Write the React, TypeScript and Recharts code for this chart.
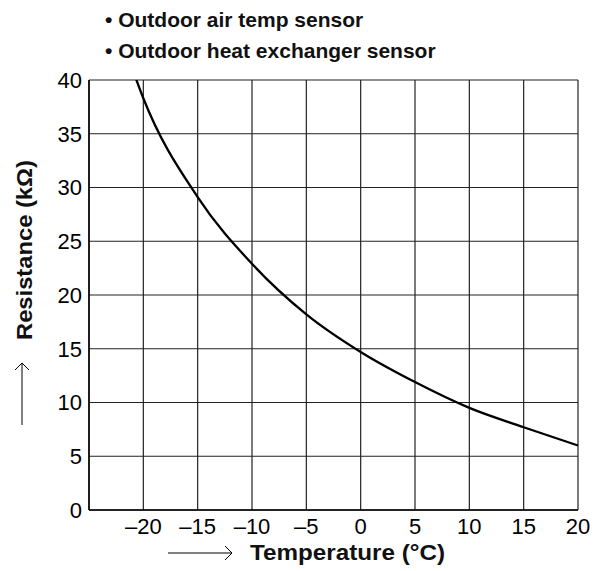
import React from "react";
import { LineChart, Line, XAxis, YAxis, CartesianGrid } from "recharts";

const temps = [-21, -20, -15, -10, -5, 0, 5, 10, 15, 20];
const resistance = [41.0, 38.3, 29.1, 22.9, 18.2, 14.7, 11.9, 9.5, 7.7, 6.0];
const xTicks = [-25, -20, -15, -10, -5, 0, 5, 10, 15, 20];
const yTicks = [0, 5, 10, 15, 20, 25, 30, 35, 40];
const titles = ["• Outdoor air temp sensor", "• Outdoor heat exchanger sensor"];

const data = temps.map((t, i) => ({ t, r: resistance[i] }));

const FONT = '"Liberation Sans", Arial, sans-serif';

const fmtX = (v: number) => (v === -25 ? "" : String(v).replace("-", "\u2013"));

export default function App() {
  return (
    <div style={{ position: "absolute", left: 0, top: 0, width: 599, height: 571, background: "#fff" }}>
      <LineChart
        width={599}
        height={571}
        data={data}
        margin={{ top: 80, right: 21, bottom: 31, left: 59 }}
      >
        <CartesianGrid stroke="#222" strokeWidth={1.2} />
        <XAxis
          dataKey="t"
          type="number"
          domain={[-25, 20]}
          ticks={xTicks}
          tickFormatter={fmtX}
          tickLine={false}
          tickSize={0}
          tickMargin={8}
          height={30}
          axisLine={{ stroke: "#000", strokeWidth: 1.5 }}
          tick={{ fill: "#000", fontSize: 22, fontFamily: FONT }}
          interval={0}
        />
        <YAxis
          type="number"
          domain={[0, 40]}
          ticks={yTicks}
          allowDataOverflow
          width={30}
          tickLine={false}
          tickSize={0}
          tickMargin={7}
          axisLine={{ stroke: "#000", strokeWidth: 1.5 }}
          tick={{ fill: "#000", fontSize: 22, fontFamily: FONT }}
          interval={0}
        />
        <Line
          dataKey="r"
          type="monotone"
          stroke="#000"
          strokeWidth={2.3}
          dot={false}
          isAnimationActive={false}
        />
      </LineChart>
      <svg
        width={599}
        height={571}
        style={{ position: "absolute", left: 0, top: 0, pointerEvents: "none" }}
      >
        {titles.map((s, i) => (
          <text
            key={s}
            x={105}
            y={27 + i * 31}
            fontFamily={FONT}
            fontWeight="bold"
            fontSize={21}
            fill="#111"
          >
            {s}
          </text>
        ))}
        <text
          x={250}
          y={560}
          fontFamily={FONT}
          fontWeight="bold"
          fontSize={22}
          fill="#111"
          textLength={195}
          lengthAdjust="spacingAndGlyphs"
        >
          Temperature (°C)
        </text>
        <line x1={168} y1={553} x2={231} y2={553} stroke="#000" strokeWidth={1} />
        <polyline points="225,546 232,553 225,560" fill="none" stroke="#000" strokeWidth={1} />
        <text
          transform="translate(32,250) rotate(-90)"
          textAnchor="middle"
          fontFamily={FONT}
          fontWeight="bold"
          fontSize={22}
          fill="#111"
          textLength={180}
          lengthAdjust="spacingAndGlyphs"
        >
          Resistance (kΩ)
        </text>
        <line x1={22} y1={425} x2={22} y2={363} stroke="#000" strokeWidth={1} />
        <polyline points="15,370 22,363 29,370" fill="none" stroke="#000" strokeWidth={1} />
      </svg>
    </div>
  );
}
